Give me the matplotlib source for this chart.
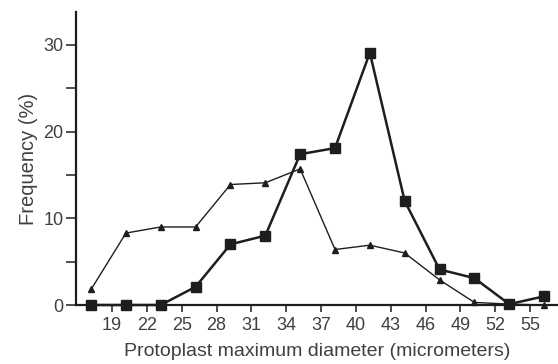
import matplotlib
matplotlib.use("Agg")
import matplotlib.pyplot as plt
from matplotlib.ticker import MultipleLocator

plt.rcParams['font.family'] = ['Liberation Sans', 'DejaVu Sans']

# bin centres (micrometers)
diam = [17.2, 20.2, 23.2, 26.2, 29.2, 32.2, 35.2, 38.2, 41.2, 44.2, 47.2, 50.2, 53.2, 56.2]
# frequency (%) per series
freq_sq = [0, 0, 0, 2.1, 7.0, 8.0, 17.4, 18.1, 29.1, 12.0, 4.1, 3.1, 0.1, 1.0]
freq_tri = [1.8, 8.3, 9.0, 9.0, 13.9, 14.1, 15.7, 6.4, 6.9, 6.0, 2.9, 0.3, 0.1, 0.0]

xticks = list(range(19, 56, 3))
yticks = [0, 10, 20, 30]

ink = '#1e1e1e'
txt = '#404040'

fig = plt.figure(figsize=(5.58, 3.64), dpi=100)
ax = fig.add_axes([76 / 558, 59 / 364, 482 / 558, 293 / 364])

ax.plot(diam, freq_tri, '-^', color=ink, lw=1.0, ms=5, zorder=3)
ax.plot(diam, freq_sq, '-s', color=ink, lw=1.8, ms=7.5, zorder=4)

ax.set_xlim(15.9, 57.4)
ax.set_ylim(0, 33.8)
ax.set_xticks(xticks)
ax.set_yticks(yticks)
ax.yaxis.set_minor_locator(MultipleLocator(5))

for s in ['top', 'right']:
    ax.spines[s].set_visible(False)
for s in ['left', 'bottom']:
    ax.spines[s].set_linewidth(1.6)
    ax.spines[s].set_color(ink)

ax.tick_params(axis='both', which='both', direction='out', color=ink,
               width=1.1, labelsize=13, labelcolor=txt)
ax.tick_params(axis='y', which='both', length=7, pad=2)
ax.tick_params(axis='x', which='both', length=5, pad=4)

ax.set_xlabel('Protoplast maximum diameter (micrometers)', fontsize=14,
              color=txt, labelpad=6)
ax.set_ylabel('Frequency (%)', fontsize=14.5, color=txt, labelpad=4)

for ln in ax.lines:
    ln.set_clip_on(False)

fig.savefig('out.png', dpi=100)
